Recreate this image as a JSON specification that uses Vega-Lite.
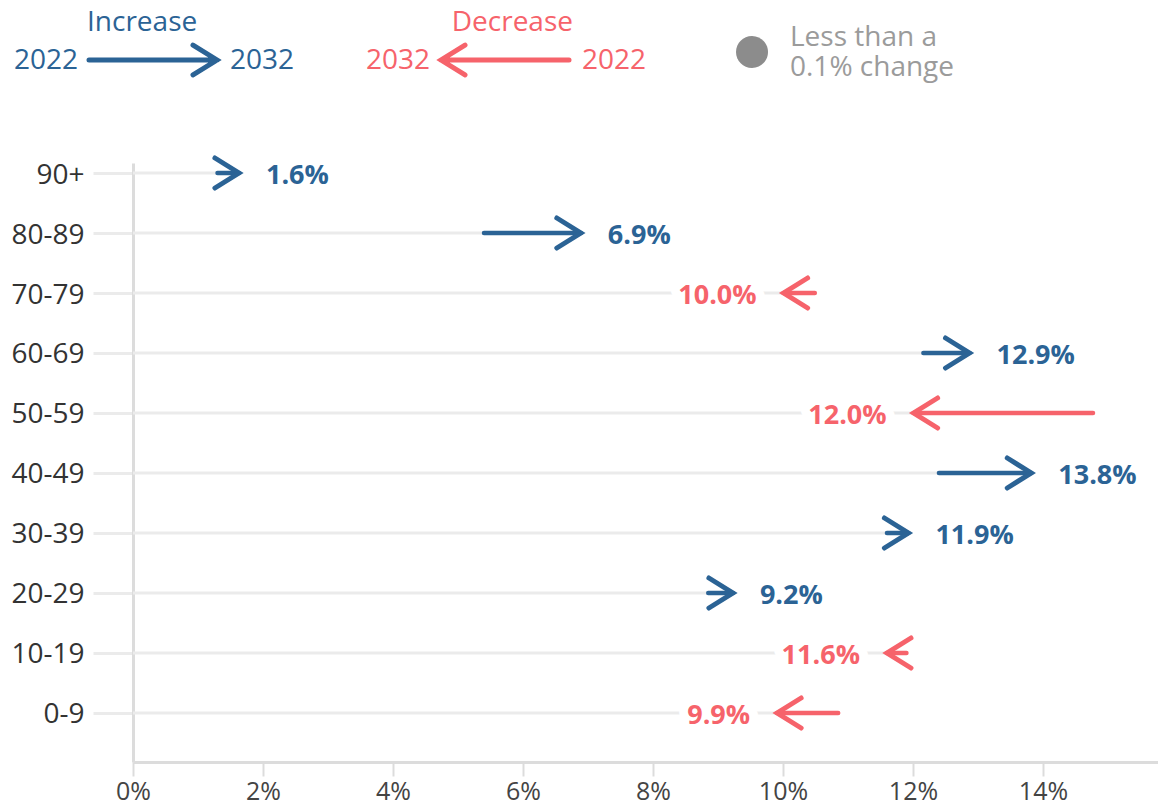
{
  "$schema": "https://vega.github.io/schema/vega-lite/v6.json",
  "padding": {"left": 0, "top": 0, "right": 0, "bottom": 6},
  "background": "white",
  "bounds": "flush",
  "spacing": 43,
  "config": {
    "view": {"stroke": null},
    "font": "Open Sans",
    "axisX": {"domainColor": "#dcdcdc", "domainWidth": 3, "tickColor": "#dcdcdc", "tickWidth": 2, "tickSize": 14, "labelFontSize": 25, "labelColor": "#444444", "labelPadding": 3, "labelFlush": false, "grid": false, "labelFont": "Open Sans"},
    "axisY": {"domainColor": "#dcdcdc", "domainWidth": 3, "tickColor": "#ebebeb", "tickWidth": 3, "tickSize": 40, "labelFontSize": 28, "labelColor": "#333333", "labelPadding": 9, "labelOffset": 2, "grid": false, "labelFont": "Open Sans", "minExtent": 133}
  },
  "datasets": {
    "ages": [
      {"age": "90+", "y2022": 0.013, "y2032": 0.0163, "direction": "Increase"},
      {"age": "80-89", "y2022": 0.054, "y2032": 0.0689, "direction": "Increase"},
      {"age": "70-79", "y2022": 0.1049, "y2032": 0.1001, "direction": "Decrease"},
      {"age": "60-69", "y2022": 0.1216, "y2032": 0.1287, "direction": "Increase"},
      {"age": "50-59", "y2022": 0.1477, "y2032": 0.1201, "direction": "Decrease"},
      {"age": "40-49", "y2022": 0.124, "y2032": 0.1382, "direction": "Increase"},
      {"age": "30-39", "y2022": 0.116, "y2032": 0.1193, "direction": "Increase"},
      {"age": "20-29", "y2022": 0.0885, "y2032": 0.0923, "direction": "Increase"},
      {"age": "10-19", "y2022": 0.119, "y2032": 0.116, "direction": "Decrease"},
      {"age": "0-9", "y2022": 0.1085, "y2032": 0.0991, "direction": "Decrease"}
    ],
    "legend": [
      {"direction": "Increase", "leftYear": "2022", "rightYear": "2032"},
      {"direction": "Decrease", "leftYear": "2032", "rightYear": "2022"},
      {"direction": "Less", "label": "Less than a\n0.1% change"}
    ]
  },
  "vconcat": [
    {
      "width": 1025,
      "height": 120,
      "data": {"name": "legend"},
      "encoding": {
        "x": {"field": "direction", "type": "nominal", "title": null,
              "scale": {"type": "band", "domain": ["Increase", "Decrease", "Less"], "range": [-119, 937], "paddingInner": 0, "paddingOuter": 0},
              "axis": null},
        "color": {"field": "direction", "type": "nominal", "legend": null,
                  "scale": {"domain": ["Increase", "Decrease", "Less"], "range": ["#2b6395", "#f6636b", "#8c8c8c"]}}
      },
      "layer": [
        {
          "transform": [{"filter": "datum.direction === 'Increase'"}],
          "mark": {"type": "text", "align": "left", "baseline": "middle", "dx": -103, "dy": -37, "fontSize": 28, "font": "Open Sans"},
          "encoding": {"text": {"field": "direction", "type": "nominal"}}
        },
        {
          "transform": [{"filter": "datum.direction === 'Decrease'"}],
          "mark": {"type": "text", "align": "right", "baseline": "middle", "dx": 31, "dy": -37, "fontSize": 28, "font": "Open Sans"},
          "encoding": {"text": {"field": "direction", "type": "nominal"}}
        },
        {
          "transform": [{"filter": "datum.direction !== 'Less'"}],
          "mark": {"type": "text", "align": "left", "baseline": "middle", "dx": -176, "dy": 1, "fontSize": 28, "font": "Open Sans"},
          "encoding": {"text": {"field": "leftYear", "type": "nominal"}}
        },
        {
          "transform": [{"filter": "datum.direction !== 'Less'"}],
          "mark": {"type": "text", "align": "left", "baseline": "middle", "dx": 40, "dy": 1, "fontSize": 28, "font": "Open Sans"},
          "encoding": {"text": {"field": "rightYear", "type": "nominal"}}
        },
        {
          "transform": [{"filter": "datum.direction === 'Increase'"}],
          "mark": {"type": "point", "shape": "M-1.578,0L0.422,0M0.047,-0.234L0.422,0L0.047,0.234", "size": 16384, "filled": false, "strokeWidth": 5, "strokeCap": "round", "opacity": 1}
        },
        {
          "transform": [{"filter": "datum.direction === 'Decrease'"}],
          "mark": {"type": "point", "shape": "M0.422,0L-1.578,0M-1.203,-0.234L-1.578,0L-1.203,0.234", "size": 16384, "filled": false, "strokeWidth": 5, "strokeCap": "round", "opacity": 1}
        },
        {
          "transform": [{"filter": "datum.direction === 'Less'"}],
          "mark": {"type": "point", "shape": "M-8.875,-1.5C-8.3227,-1.5,-7.875,-1.0523,-7.875,-0.5C-7.875,0.0523,-8.3227,0.5,-8.875,0.5C-9.4273,0.5,-9.875,0.0523,-9.875,-0.5C-9.875,-1.0523,-9.4273,-1.5,-8.875,-1.5Z", "size": 1024, "filled": true, "strokeWidth": 0, "opacity": 1}
        },
        {
          "transform": [{"filter": "datum.direction === 'Less'"}],
          "mark": {"type": "text", "align": "left", "baseline": "middle", "dx": -104, "dy": -22, "fontSize": 28, "font": "Open Sans", "lineBreak": "\n", "lineHeight": 30},
          "encoding": {"text": {"field": "label", "type": "nominal"}, "color": {"value": "#9b9b9b"}}
        }
      ]
    },
    {
      "width": 1025,
      "height": 599,
      "data": {"name": "ages"},
      "encoding": {
        "y": {"field": "age", "type": "nominal", "title": null,
              "scale": {"type": "point", "domain": ["90+", "80-89", "70-79", "60-69", "50-59", "40-49", "30-39", "20-29", "10-19", "0-9"], "padding": 0.4917, "align": 0.1695},
              "axis": {"title": null}},
        "color": {"field": "direction", "type": "nominal", "legend": null,
                  "scale": {"domain": ["Increase", "Decrease", "Less"], "range": ["#2b6395", "#f6636b", "#8c8c8c"]}}
      },
      "layer": [
        {
          "mark": {"type": "bar", "size": 3},
          "encoding": {
            "x": {"field": "y2022", "type": "quantitative", "title": null, "scale": {"domain": [0, 0.1577], "nice": false, "zero": true}, "axis": {"values": [0, 0.02, 0.04, 0.06, 0.08, 0.1, 0.12, 0.14], "format": ".0%", "title": null}},
            "color": {"value": "#ebebeb"}
          }
        },
        {
          "transform": [{"filter": "datum.direction === 'Decrease'"}],
          "mark": {"type": "text", "align": "right", "baseline": "middle", "dx": -27, "dy": 3, "fontSize": 27, "fontWeight": "bold", "font": "Open Sans", "stroke": "white", "strokeWidth": 18, "strokeJoin": "round"},
          "encoding": {
            "x": {"field": "y2032", "type": "quantitative", "title": null},
            "text": {"field": "y2032", "type": "quantitative", "format": ".1%"},
            "color": {"value": "white"}
          }
        },
        {
          "transform": [{"filter": "datum.direction === 'Decrease'"}],
          "mark": {"type": "text", "align": "right", "baseline": "middle", "dx": -27, "dy": 3, "fontSize": 27, "fontWeight": "bold", "font": "Open Sans"},
          "encoding": {
            "x": {"field": "y2032", "type": "quantitative", "title": null},
            "text": {"field": "y2032", "type": "quantitative", "format": ".1%"}
          }
        },
        {
          "transform": [{"filter": "datum.direction === 'Increase'"}],
          "mark": {"type": "text", "align": "left", "baseline": "middle", "dx": 27, "dy": 3, "fontSize": 27, "fontWeight": "bold", "font": "Open Sans"},
          "encoding": {
            "x": {"field": "y2032", "type": "quantitative", "title": null},
            "text": {"field": "y2032", "type": "quantitative", "format": ".1%"}
          }
        },
        {
          "mark": {"type": "rule", "strokeWidth": 4.5, "strokeCap": "round"},
          "encoding": {
            "x": {"field": "y2022", "type": "quantitative", "title": null},
            "x2": {"field": "y2032"}
          }
        },
        {
          "transform": [{"filter": "datum.direction === 'Increase'"}],
          "mark": {"type": "point", "shape": "M-1.6,-1L0,0L-1.6,1", "size": 900, "filled": false, "strokeWidth": 5, "strokeCap": "round", "strokeJoin": "miter", "opacity": 1},
          "encoding": {
            "x": {"field": "y2032", "type": "quantitative", "title": null}
          }
        },
        {
          "transform": [{"filter": "datum.direction === 'Decrease'"}],
          "mark": {"type": "point", "shape": "M1.6,-1L0,0L1.6,1", "size": 900, "filled": false, "strokeWidth": 5, "strokeCap": "round", "strokeJoin": "miter", "opacity": 1},
          "encoding": {
            "x": {"field": "y2032", "type": "quantitative", "title": null}
          }
        }
      ]
    }
  ]
}
